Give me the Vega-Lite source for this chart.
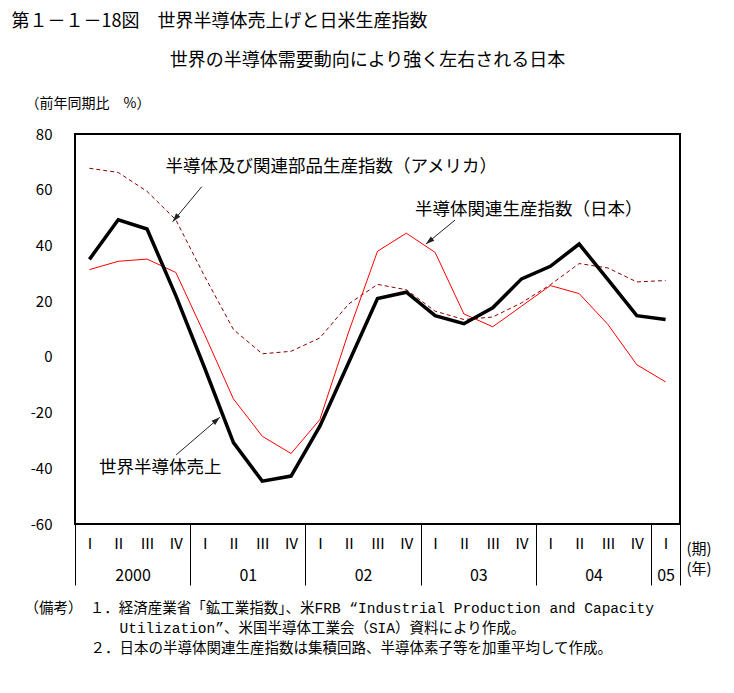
{
  "$schema": "https://vega.github.io/schema/vega-lite/v6.json",
  "width": 605,
  "height": 390,
  "autosize": {"type": "none"},
  "padding": {"left": 75, "top": 134, "right": 54, "bottom": 169},
  "background": "white",
  "config": {
    "font": "Noto Sans CJK JP",
    "view": {"stroke": "black", "strokeWidth": 2},
    "axis": {"grid": false, "labelColor": "black", "titleColor": "black", "titleFontWeight": "normal", "labelFont": "Noto Sans CJK JP", "titleFont": "Noto Sans CJK JP", "labelFlush": false, "labelOverlap": false, "labelBound": false}
  },
  "datasets": {
    "series": [
      {"i": 0, "year": "2000", "q": "I", "series": "US", "value": 67.7},
      {"i": 1, "year": "2000", "q": "II", "series": "US", "value": 66.2},
      {"i": 2, "year": "2000", "q": "III", "series": "US", "value": 59.4},
      {"i": 3, "year": "2000", "q": "IV", "series": "US", "value": 49.2},
      {"i": 4, "year": "2001", "q": "I", "series": "US", "value": 28.9},
      {"i": 5, "year": "2001", "q": "II", "series": "US", "value": 9.8},
      {"i": 6, "year": "2001", "q": "III", "series": "US", "value": 1.1},
      {"i": 7, "year": "2001", "q": "IV", "series": "US", "value": 2.0},
      {"i": 8, "year": "2002", "q": "I", "series": "US", "value": 6.8},
      {"i": 9, "year": "2002", "q": "II", "series": "US", "value": 19.0},
      {"i": 10, "year": "2002", "q": "III", "series": "US", "value": 26.0},
      {"i": 11, "year": "2002", "q": "IV", "series": "US", "value": 24.1},
      {"i": 12, "year": "2003", "q": "I", "series": "US", "value": 16.4},
      {"i": 13, "year": "2003", "q": "II", "series": "US", "value": 13.4},
      {"i": 14, "year": "2003", "q": "III", "series": "US", "value": 14.3},
      {"i": 15, "year": "2003", "q": "IV", "series": "US", "value": 19.4},
      {"i": 16, "year": "2004", "q": "I", "series": "US", "value": 25.9},
      {"i": 17, "year": "2004", "q": "II", "series": "US", "value": 33.5},
      {"i": 18, "year": "2004", "q": "III", "series": "US", "value": 31.9},
      {"i": 19, "year": "2004", "q": "IV", "series": "US", "value": 26.9},
      {"i": 20, "year": "2005", "q": "I", "series": "US", "value": 27.4},
      {"i": 0, "year": "2000", "q": "I", "series": "Japan", "value": 31.3},
      {"i": 1, "year": "2000", "q": "II", "series": "Japan", "value": 34.3},
      {"i": 2, "year": "2000", "q": "III", "series": "Japan", "value": 35.1},
      {"i": 3, "year": "2000", "q": "IV", "series": "Japan", "value": 30.3},
      {"i": 4, "year": "2001", "q": "I", "series": "Japan", "value": 8.0},
      {"i": 5, "year": "2001", "q": "II", "series": "Japan", "value": -15.1},
      {"i": 6, "year": "2001", "q": "III", "series": "Japan", "value": -28.5},
      {"i": 7, "year": "2001", "q": "IV", "series": "Japan", "value": -34.7},
      {"i": 8, "year": "2002", "q": "I", "series": "Japan", "value": -22.5},
      {"i": 9, "year": "2002", "q": "II", "series": "Japan", "value": 9.0},
      {"i": 10, "year": "2002", "q": "III", "series": "Japan", "value": 37.9},
      {"i": 11, "year": "2002", "q": "IV", "series": "Japan", "value": 44.4},
      {"i": 12, "year": "2003", "q": "I", "series": "Japan", "value": 37.5},
      {"i": 13, "year": "2003", "q": "II", "series": "Japan", "value": 15.4},
      {"i": 14, "year": "2003", "q": "III", "series": "Japan", "value": 10.8},
      {"i": 15, "year": "2003", "q": "IV", "series": "Japan", "value": 18.2},
      {"i": 16, "year": "2004", "q": "I", "series": "Japan", "value": 25.6},
      {"i": 17, "year": "2004", "q": "II", "series": "Japan", "value": 22.7},
      {"i": 18, "year": "2004", "q": "III", "series": "Japan", "value": 11.6},
      {"i": 19, "year": "2004", "q": "IV", "series": "Japan", "value": -2.8},
      {"i": 20, "year": "2005", "q": "I", "series": "Japan", "value": -9.0},
      {"i": 0, "year": "2000", "q": "I", "series": "World", "value": 35.0},
      {"i": 1, "year": "2000", "q": "II", "series": "World", "value": 49.2},
      {"i": 2, "year": "2000", "q": "III", "series": "World", "value": 45.9},
      {"i": 3, "year": "2000", "q": "IV", "series": "World", "value": 22.0},
      {"i": 4, "year": "2001", "q": "I", "series": "World", "value": -4.0},
      {"i": 5, "year": "2001", "q": "II", "series": "World", "value": -30.8},
      {"i": 6, "year": "2001", "q": "III", "series": "World", "value": -44.6},
      {"i": 7, "year": "2001", "q": "IV", "series": "World", "value": -42.8},
      {"i": 8, "year": "2002", "q": "I", "series": "World", "value": -24.9},
      {"i": 9, "year": "2002", "q": "II", "series": "World", "value": -2.0},
      {"i": 10, "year": "2002", "q": "III", "series": "World", "value": 20.9},
      {"i": 11, "year": "2002", "q": "IV", "series": "World", "value": 23.2},
      {"i": 12, "year": "2003", "q": "I", "series": "World", "value": 14.8},
      {"i": 13, "year": "2003", "q": "II", "series": "World", "value": 11.9},
      {"i": 14, "year": "2003", "q": "III", "series": "World", "value": 17.6},
      {"i": 15, "year": "2003", "q": "IV", "series": "World", "value": 28.0},
      {"i": 16, "year": "2004", "q": "I", "series": "World", "value": 32.5},
      {"i": 17, "year": "2004", "q": "II", "series": "World", "value": 40.5},
      {"i": 18, "year": "2004", "q": "III", "series": "World", "value": 27.7},
      {"i": 19, "year": "2004", "q": "IV", "series": "World", "value": 14.8},
      {"i": 20, "year": "2005", "q": "I", "series": "World", "value": 13.4}
    ],
    "labels": [
      {"label": "半導体及び関連部品生産指数（アメリカ）", "x": 2.64, "y": 68.3},
      {"label": "半導体関連生産指数（日本）", "x": 11.3, "y": 52.7},
      {"label": "世界半導体売上", "x": 0.33, "y": -40.0}
    ],
    "arrows": [
      {"target": "US", "x": 3.9, "y": 61.1, "x2": 2.89, "y2": 48.5, "angle": 219.6},
      {"target": "Japan", "x": 12.69, "y": 49.1, "x2": 11.68, "y2": 40.5, "angle": 230.4},
      {"target": "World", "x": 3.01, "y": -35.2, "x2": 4.53, "y2": -21.7, "angle": 49.4}
    ]
  },
  "layer": [
    {
      "mark": {"type": "rule", "color": "black", "strokeWidth": 1},
      "encoding": {
        "y": {"datum": 0, "type": "quantitative", "scale": {"domain": [-60, 80], "nice": false, "zero": false}, "axis": null}
      }
    },
    {
      "data": {"name": "series"},
      "transform": [{"filter": "datum.series === 'US'"}],
      "mark": {"type": "line", "color": "#8B0000", "strokeWidth": 1, "strokeDash": [4, 3]},
      "encoding": {
        "x": {
          "field": "i", "type": "quantitative",
          "scale": {"domain": [-0.5, 20.5], "nice": false, "zero": false},
          "axis": {
            "orient": "bottom",
            "values": [0, 1, 2, 3, 4, 5, 6, 7, 8, 9, 10, 11, 12, 13, 14, 15, 16, 17, 18, 19, 20],
            "labelExpr": "['Ⅰ','Ⅱ','Ⅲ','Ⅳ'][datum.value % 4]",
            "ticks": false, "domain": false,
            "labelPadding": 19, "labelBaseline": "middle", "labelFontSize": 15,
            "title": "（備考）\u2002１．経済産業省「鉱工業指数」、米FRB “Industrial Production and Capacity",
            "titleX": -51, "titleY": 84, "titleAlign": "left", "titleAnchor": "start", "titleBaseline": "middle",
            "titleFont": "Liberation Mono, Noto Sans CJK JP",
            "titleFontSize": 14.5, "titleAngle": 0
          }
        },
        "y": {
          "field": "value", "type": "quantitative",
          "scale": {"domain": [-60, 80], "nice": false, "zero": false},
          "axis": {
            "orient": "left",
            "values": [-60, -40, -20, 0, 20, 40, 60, 80],
            "labelExpr": "'' + datum.value",
            "ticks": false, "domain": false,
            "labelPadding": 23, "labelFontSize": 15,
            "title": "（前年同期比　%）",
            "titleAngle": 0, "titleAlign": "left", "titleBaseline": "middle",
            "titleX": -50, "titleY": -31, "titleFontSize": 14
          }
        }
      }
    },
    {
      "data": {"name": "series"},
      "transform": [{"filter": "datum.series === 'Japan'"}],
      "mark": {"type": "line", "color": "#FF0000", "strokeWidth": 1},
      "encoding": {
        "x": {
          "field": "i", "type": "quantitative",
          "axis": {
            "orient": "bottom",
            "values": [-0.5, 3.5, 7.5, 11.5, 15.5, 19.5, 20.5],
            "labels": false, "domain": false,
            "ticks": true, "tickSize": 61, "tickColor": "black", "tickWidth": 1,
            "title": ["(期)", "(年)"],
            "titleX": 611, "titleY": 17, "titleAlign": "left", "titleAnchor": "start", "titleBaseline": "top",
            "titleFontSize": 15, "titleLineHeight": 20, "titleAngle": 0
          }
        },
        "y": {
          "field": "value", "type": "quantitative",
          "axis": {
            "orient": "left", "labels": false, "ticks": false, "domain": false,
            "title": "２．日本の半導体関連生産指数は集積回路、半導体素子等を加重平均して作成。",
            "titleFont": "Liberation Mono, Noto Sans CJK JP",
            "titleAngle": 0, "titleAlign": "left", "titleBaseline": "middle",
            "titleX": 15, "titleY": 514, "titleFontSize": 14.5
          }
        }
      }
    },
    {
      "data": {"name": "series"},
      "transform": [{"filter": "datum.series === 'World'"}],
      "mark": {"type": "line", "color": "#000000", "strokeWidth": 3.5},
      "encoding": {
        "x": {
          "field": "i", "type": "quantitative",
          "axis": {
            "orient": "bottom",
            "values": [1.5, 5.5, 9.5, 13.5, 17.5, 20],
            "labelExpr": "datum.value == 1.5 ? '2000' : datum.value == 5.5 ? '01' : datum.value == 9.5 ? '02' : datum.value == 13.5 ? '03' : datum.value == 17.5 ? '04' : '05'",
            "ticks": false, "domain": false,
            "labelPadding": 51, "labelBaseline": "middle", "labelFontSize": 16,
            "title": "Utilization”、米国半導体工業会（SIA）資料により作成。",
            "titleFont": "Liberation Mono, Noto Sans CJK JP",
            "titleX": 44, "titleY": 104, "titleAlign": "left", "titleAnchor": "start", "titleBaseline": "middle",
            "titleFontSize": 14.5, "titleAngle": 0
          }
        },
        "y": {"field": "value", "type": "quantitative", "axis": null}
      }
    },
    {
      "data": {"name": "arrows"},
      "mark": {"type": "rule", "color": "#222222", "strokeWidth": 1},
      "encoding": {
        "x": {
          "field": "x", "type": "quantitative",
          "axis": {
            "orient": "top", "labels": false, "ticks": false, "domain": false,
            "title": "世界の半導体需要動向により強く左右される日本",
            "titleX": 292, "titleY": -74, "titleAlign": "center", "titleBaseline": "middle",
            "titleFontSize": 18, "titleAngle": 0
          }
        },
        "y": {"field": "y", "type": "quantitative", "axis": null},
        "x2": {"field": "x2"},
        "y2": {"field": "y2"}
      }
    },
    {
      "data": {"name": "arrows"},
      "mark": {"type": "point", "shape": "M0,0L-0.32,1L0.32,1Z", "filled": true, "size": 300, "color": "#222222", "opacity": 1},
      "encoding": {
        "x": {
          "field": "x2", "type": "quantitative",
          "axis": {
            "orient": "top", "labels": false, "ticks": false, "domain": false,
            "title": "第１－１－18図　世界半導体売上げと日米生産指数",
            "titleX": -64, "titleY": -113, "titleAlign": "left", "titleAnchor": "start", "titleBaseline": "middle",
            "titleFontSize": 18, "titleAngle": 0
          }
        },
        "y": {"field": "y2", "type": "quantitative", "axis": null},
        "angle": {"field": "angle", "type": "quantitative", "scale": null}
      }
    },
    {
      "data": {"name": "labels"},
      "mark": {"type": "text", "align": "left", "baseline": "middle", "fontSize": 17.5, "color": "black"},
      "encoding": {
        "x": {"field": "x", "type": "quantitative", "axis": null},
        "y": {"field": "y", "type": "quantitative", "axis": null},
        "text": {"field": "label"}
      }
    }
  ],
  "resolve": {"axis": {"x": "independent", "y": "independent"}}
}
